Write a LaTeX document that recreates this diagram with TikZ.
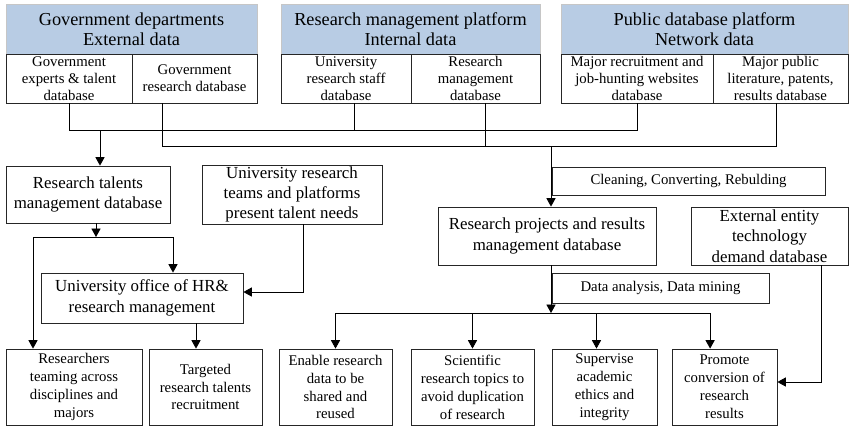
\documentclass[tikz,border=0pt]{standalone}
\usepackage{fontspec}
\setmainfont{Liberation Serif}
\usetikzlibrary{positioning, arrows.meta, calc}

\definecolor{headblue}{RGB}{184,204,228}

\tikzset{
	head/.style	= {draw=gray!45, fill=headblue, minimum height=1.25cm, inner sep=1pt, align=center, font=\fontsize{13}{14}\selectfont},
	sub/.style	= {draw=black!85, minimum height=1.225cm, inner sep=1pt, align=center, font=\fontsize{10.5}{12}\selectfont},
	mid/.style	= {draw=black!85, minimum height=1.425cm, inner sep=1pt, align=center, font=\fontsize{12}{14.5}\selectfont},
	note/.style	= {draw=black!85, inner sep=1pt, align=center, font=\fontsize{10.5}{12}\selectfont},
	leaf/.style	= {draw=black!85, minimum height=1.9cm, inner sep=1pt, align=center, font=\fontsize{10.5}{12.75}\selectfont},
	arr/.style	= {-{Triangle[length=6pt, width=6.5pt]}},
}

\begin{document}
\begin{tikzpicture}[line width=0.6pt]
			\useasboundingbox (0, 0) rectangle (21.225, -10.675);

			% data sources
			\node	(G)		at	(3.2875, -0.725)	[head, minimum width=6.275cm]	{Government departments\\External data};
			\node	(G1)	at	(1.725, -1.9625)	[sub, minimum width=3.15cm]		{Government\\experts \& talent\\database};
			\node	(G2)	at	(4.8625, -1.9625)	[sub, minimum width=3.125cm]	{Government\\research database};
			\node	(R)		at	(10.2625, -0.725)	[head, minimum width=6.475cm]	{Research management platform\\Internal data};
			\node	(R1)	at	(8.65, -1.9625)		[sub, minimum width=3.25cm]		{University\\research staff\\database};
			\node	(R2)	at	(11.8875, -1.9625)	[sub, minimum width=3.225cm]	{Research\\management\\database};
			\node	(P)		at	(17.6125, -0.725)	[head, minimum width=7.175cm]	{Public database platform\\Network data};
			\node	(P1)	at	(15.925, -1.9625)	[sub, minimum width=3.8cm]		{Major recruitment and\\job-hunting websites\\database};
			\node	(P2)	at	(19.5125, -1.9625)	[sub, minimum width=3.375cm]	{Major public\\literature, patents,\\results database};

			% middle level
			\node	(RT)	at	(2.2, -4.8625)		[mid, minimum width=4.1cm]		{Research talents\\management database};
			\node	(UT)	at	(7.3, -4.8625)		[mid, minimum width=4.5cm]		{University research\\teams and platforms\\present talent needs};
			\node	(HR)	at	(3.55, -7.45)		[mid, minimum width=5.05cm, minimum height=1.25cm]	{University office of HR\&\\research management};
			\node	(CL)	at	(17.2125, -4.525)	[note, minimum width=6.825cm, minimum height=0.7cm]	{Cleaning, Converting, Rebulding};
			\node	(RP)	at	(13.675, -5.9)		[mid, minimum width=5.45cm, minimum height=1.45cm]	{Research projects and results\\management database};
			\node	(EX)	at	(19.2375, -5.9)		[mid, minimum width=3.925cm, minimum height=1.45cm]	{External entity\\technology\\demand database};
			\node	(DA)	at	(16.5125, -7.2)		[note, minimum width=5.425cm, minimum height=0.75cm]	{Data analysis, Data mining};

			% outcomes
			\node	(Res)	at	(1.85, -9.675)		[leaf, minimum width=3.4cm]		{Researchers\\teaming across\\disciplines and\\majors};
			\node	(Tgt)	at	(5.1375, -9.675)	[leaf, minimum width=2.825cm]	{Targeted\\research talents\\recruitment};
			\node	(Ena)	at	(8.3875, -9.675)	[leaf, minimum width=2.825cm]	{Enable research\\data to be\\shared and\\reused};
			\node	(Sci)	at	(11.8125, -9.675)	[leaf, minimum width=3.075cm]	{Scientific\\research topics to\\avoid duplication\\of research};
			\node	(Sup)	at	(15.1125, -9.675)	[leaf, minimum width=2.625cm]	{Supervise\\academic\\ethics and\\integrity};
			\node	(Pro)	at	(18.1125, -9.675)	[leaf, minimum width=2.625cm]	{Promote\\conversion of\\research\\results};

			% collecting lines
			\coordinate	(busA)	at	(2.5, -3.25);
			\coordinate	(busB)	at	(13.775, -3.65);
			\coordinate	(oG2)	at	([xshift=-0.79cm]G2.south);
			\coordinate	(oR1)	at	([xshift=0.2cm]R1.south);
			\coordinate	(oR2)	at	([xshift=0.26cm]R2.south);
			\coordinate	(oP2)	at	([xshift=-0.09cm]P2.south);
			\draw	(G1.south)	|-	(busA -| P1.south)	--	(P1.south);
			\draw	(oR1)		--	(busA -| oR1);
			\draw	(oG2)		|-	(busB -| oP2)		--	(oP2);
			\draw	(oR2)		--	(busB -| oR2);
			\draw	[arr]	(busA)	--	(busA |- RT.north);
			\draw	[arr]	(busB)	--	(busB |- RP.north);

			% talents side
			\coordinate	(oRT)	at	([xshift=0.2cm]RT.south);
			\coordinate	(sL)	at	(0.825, -5.925);
			\coordinate	(sR)	at	(4.325, -5.925);
			\coordinate	(oUT)	at	([xshift=0.275cm]UT.south);
			\coordinate	(iHR)	at	([yshift=0.15cm]HR.east);
			\coordinate	(oHR)	at	([xshift=1.35cm]HR.south);
			\draw	[arr]	(oRT)	--	(oRT |- sL);
			\draw	[arr]	(sL)	--	(sL |- Res.north);
			\draw	[arr]	(sL)	--	(sR)	--	(sR |- HR.north);
			\draw	[arr]	(oUT)	|-	(iHR);
			\draw	[arr]	(oHR)	--	(oHR |- Tgt.north);

			% results side
			\coordinate	(busC)	at	(13.775, -7.825);
			\coordinate	(iSup)	at	([xshift=-0.2cm]Sup.north);
			\coordinate	(iPro)	at	([xshift=-0.36cm]Pro.north);
			\coordinate	(oEX)	at	([xshift=1.2875cm]EX.south);
			\coordinate	(iProE)	at	([yshift=0.125cm]Pro.east);
			\draw	[arr]	(busC |- RP.south)	--	(busC);
			\draw	(busC -| Ena.north)	--	(busC -| iPro);
			\foreach \t in {Ena.north, Sci.north, iSup, iPro}
				\draw	[arr]	(busC -| \t)	--	(\t);
			\draw	[arr]	(oEX)	|-	(iProE);
		\end{tikzpicture}
\end{document}
